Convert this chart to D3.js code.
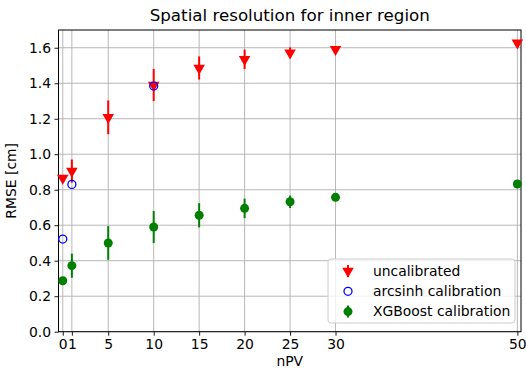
<!DOCTYPE html>
<html>
<head>
<meta charset="utf-8">
<script src="https://cdn.jsdelivr.net/npm/d3@7"></script>
<style>
  body { margin: 0; background: #fff; }
  svg text { font-family: "DejaVu Sans", sans-serif; fill: #000; }
</style>
</head>
<body>
<svg id="chart" width="526" height="371"></svg>
<script>
// data
var nPV = [0, 1, 5, 10, 15, 20, 25, 30, 50];
var uncal = [0.865, 0.905, 1.208, 1.39, 1.486, 1.535, 1.572, 1.591, 1.628];
var uncalErr = [0.01, 0.065, 0.095, 0.09, 0.065, 0.055, 0.03, 0.015, 0.01];
var arcX = [0, 1, 10];
var arcsinh = [0.522, 0.83, 1.384];
var xgb = [0.287, 0.372, 0.50, 0.59, 0.656, 0.695, 0.732, 0.757, 0.832];
var xgbErr = [0.015, 0.068, 0.095, 0.09, 0.068, 0.055, 0.035, 0.015, 0.01];
var xTicks = [0, 1, 5, 10, 15, 20, 25, 30, 50];
var yTicks = [0, 0.2, 0.4, 0.6, 0.8, 1.0, 1.2, 1.4, 1.6];

var svg = d3.select('#chart');
var L = 58.5, R = 521, T = 30, B = 331.7;

var x = d3.scaleLinear().domain([-0.47, 50.4]).range([L, R]);
var y = d3.scaleLinear().domain([0, 1.7]).range([B, T]);

// grid
svg.append('g').selectAll('line').data(xTicks).join('line')
  .attr('x1', d => x(d)).attr('x2', d => x(d)).attr('y1', T).attr('y2', B)
  .attr('stroke', '#b0b0b0').attr('stroke-width', 0.9);
svg.append('g').selectAll('line').data(yTicks).join('line')
  .attr('x1', L).attr('x2', R).attr('y1', d => y(d)).attr('y2', d => y(d))
  .attr('stroke', '#b0b0b0').attr('stroke-width', 0.9);

// axes
var xAxis = svg.append('g').attr('transform', 'translate(0,' + B + ')')
  .call(d3.axisBottom(x).tickValues(xTicks).tickFormat(d3.format('d')).tickSize(4).tickPadding(3.5));
var yAxis = svg.append('g').attr('transform', 'translate(' + L + ',0)')
  .call(d3.axisLeft(y).tickValues(yTicks).tickFormat(d3.format('.1f')).tickSize(4).tickPadding(3.5));
[xAxis, yAxis].forEach(function (a) {
  a.select('.domain').remove();
  a.selectAll('text').style('font-size', '13.9px').style('font-family', 'DejaVu Sans');
  a.selectAll('line').attr('stroke', '#000').attr('stroke-width', 0.9);
});

svg.append('rect').attr('x', L).attr('y', T).attr('width', R - L).attr('height', B - T)
  .attr('fill', 'none').attr('stroke', '#000').attr('stroke-width', 1);

// uncalibrated
var tri = d3.symbol().type(d3.symbolTriangle).size(58);
var red = svg.append('g');
red.selectAll('line').data(nPV).join('line')
  .attr('x1', d => x(d)).attr('x2', d => x(d))
  .attr('y1', (d, i) => y(uncal[i] - uncalErr[i]))
  .attr('y2', (d, i) => y(uncal[i] + uncalErr[i]))
  .attr('stroke', 'red').attr('stroke-width', 2);
red.selectAll('path').data(nPV).join('path')
  .attr('d', tri)
  .attr('transform', (d, i) => 'translate(' + x(d) + ',' + y(uncal[i]) + ') rotate(180)')
  .attr('fill', 'red');

// arcsinh
svg.append('g').selectAll('circle').data(arcX).join('circle')
  .attr('cx', d => x(d)).attr('cy', (d, i) => y(arcsinh[i])).attr('r', 4)
  .attr('fill', 'none').attr('stroke', 'blue').attr('stroke-width', 1.3);

// XGBoost
var grn = svg.append('g');
grn.selectAll('line').data(nPV).join('line')
  .attr('x1', d => x(d)).attr('x2', d => x(d))
  .attr('y1', (d, i) => y(xgb[i] - xgbErr[i]))
  .attr('y2', (d, i) => y(xgb[i] + xgbErr[i]))
  .attr('stroke', 'green').attr('stroke-width', 2);
grn.selectAll('circle').data(nPV).join('circle')
  .attr('cx', d => x(d)).attr('cy', (d, i) => y(xgb[i])).attr('r', 4.5)
  .attr('fill', 'green');

// legend
var lg = svg.append('g').attr('transform', 'translate(328,259)');
lg.append('rect').attr('width', 187).attr('height', 64).attr('rx', 3)
  .attr('fill', '#fff').attr('fill-opacity', 0.8).attr('stroke', '#ccc');
var items = ['uncalibrated', 'arcsinh calibration', 'XGBoost calibration'];
items.forEach(function (t, i) {
  var yy = 12 + i * 20.3;
  var m = lg.append('g').attr('transform', 'translate(20,' + yy + ')');
  if (i === 0) {
    m.append('line').attr('y1', -6).attr('y2', 6).attr('stroke', 'red').attr('stroke-width', 2);
    m.append('path').attr('d', tri).attr('transform', 'rotate(180)').attr('fill', 'red');
  } else if (i === 1) {
    m.append('circle').attr('r', 4).attr('fill', 'none').attr('stroke', 'blue').attr('stroke-width', 1.3);
  } else {
    m.append('line').attr('y1', -6).attr('y2', 6).attr('stroke', 'green').attr('stroke-width', 2);
    m.append('circle').attr('r', 4.5).attr('fill', 'green');
  }
  lg.append('text').attr('x', 45).attr('y', yy).attr('dy', '0.35em')
    .style('font-size', '13.9px').text(t);
});

// titles
svg.append('text').attr('x', (L + R) / 2).attr('y', 21).attr('text-anchor', 'middle')
  .style('font-size', '16.7px').text('Spatial resolution for inner region');
svg.append('text').attr('x', (L + R) / 2).attr('y', 366).attr('text-anchor', 'middle')
  .style('font-size', '13.9px').text('nPV');
svg.append('text').attr('transform', 'translate(16,' + ((T + B) / 2) + ') rotate(-90)')
  .attr('text-anchor', 'middle').style('font-size', '13.9px').text('RMSE [cm]');
</script>
</body>
</html>
